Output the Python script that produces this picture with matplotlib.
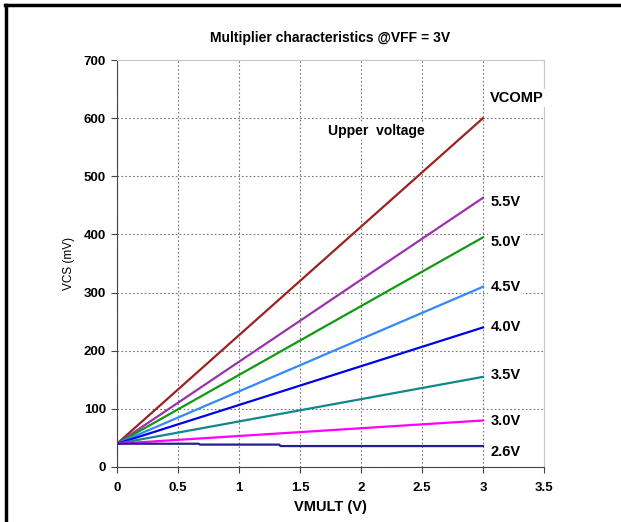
import matplotlib.pyplot as plt
from matplotlib.lines import Line2D

# VMULT sweep end points and VCS response per upper voltage
vmult = [0, 3]
vcs_curves = {
    "VCOMP": [40, 600],
    "5.5V": [40, 463],
    "5.0V": [40, 395],
    "4.5V": [40, 310],
    "4.0V": [40, 240],
    "3.5V": [40, 155],
    "3.0V": [40, 80],
}
# 2.6V curve is almost flat with small steps
vmult_26 = [0, 0.67, 0.68, 1.33, 1.34, 3]
vcs_26 = [40, 40, 38.5, 38.5, 36, 36]

label_y = {"VCOMP": 635, "5.5V": 456, "5.0V": 387, "4.5V": 310,
           "4.0V": 241, "3.5V": 158, "3.0V": 79, "2.6V": 26}
colors = {"VCOMP": "#992222", "5.5V": "#9933AA", "5.0V": "#119911",
          "4.5V": "#3388FF", "4.0V": "#0000EE", "3.5V": "#118888",
          "3.0V": "#FF00FF", "2.6V": "#222288"}

plt.rcParams['font.family'] = ['Liberation Sans', 'DejaVu Sans']

fig = plt.figure(figsize=(6.21, 5.22), dpi=100)
ax = fig.add_axes([0.1884, 0.1054, 0.6876, 0.7796])

for name, vals in vcs_curves.items():
    ax.plot(vmult, vals, color=colors[name], lw=1.6)
ax.plot(vmult_26, vcs_26, color=colors["2.6V"], lw=1.6)

for name, y in label_y.items():
    ax.text(3.06, y, name, fontsize=10.5, fontweight='bold', va='center', ha='left',
            bbox=dict(facecolor='white', edgecolor='none', pad=1.5))
ax.text(1.73, 578, "Upper  voltage", fontsize=10, fontweight='bold', va='center',
        bbox=dict(facecolor='white', edgecolor='none', pad=1.5))

ax.set_xlim(0, 3.5)
ax.set_ylim(0, 700)
ax.set_xticks([0, 0.5, 1, 1.5, 2, 2.5, 3, 3.5])
ax.set_xticklabels(['0', '0.5', '1', '1.5', '2', '2.5', '3', '3.5'])
ax.set_yticks(range(0, 701, 100))
ax.grid(True, color='#777777', linestyle=(0, (1.5, 2)), linewidth=0.8)
ax.set_axisbelow(True)
for lbl in ax.get_xticklabels() + ax.get_yticklabels():
    lbl.set_fontweight('bold')
ax.tick_params(labelsize=9.5, length=4, width=0.8, color='#444444', pad=7)
ax.tick_params(axis='y', pad=4)
ax.spines['left'].set_color('#444444')
ax.spines['bottom'].set_color('#444444')
ax.spines['top'].set_color('#c8c8c8')
ax.spines['right'].set_color('#c8c8c8')

ax.set_title("Multiplier characteristics @VFF = 3V", fontsize=10, fontweight='bold', pad=13)
ax.set_xlabel("VMULT (V)", fontsize=10.5, fontweight='bold', labelpad=4)
ax.set_ylabel("VCS (mV)", fontsize=8.5, labelpad=6)

# outer frame lines along top and left edges
fig.add_artist(Line2D([0.008, 1], [0.99, 0.99], color='black', lw=2.5, transform=fig.transFigure))
fig.add_artist(Line2D([0.01, 0.01], [0, 0.99], color='black', lw=2.5, transform=fig.transFigure))

fig.savefig("out.png", dpi=100)
